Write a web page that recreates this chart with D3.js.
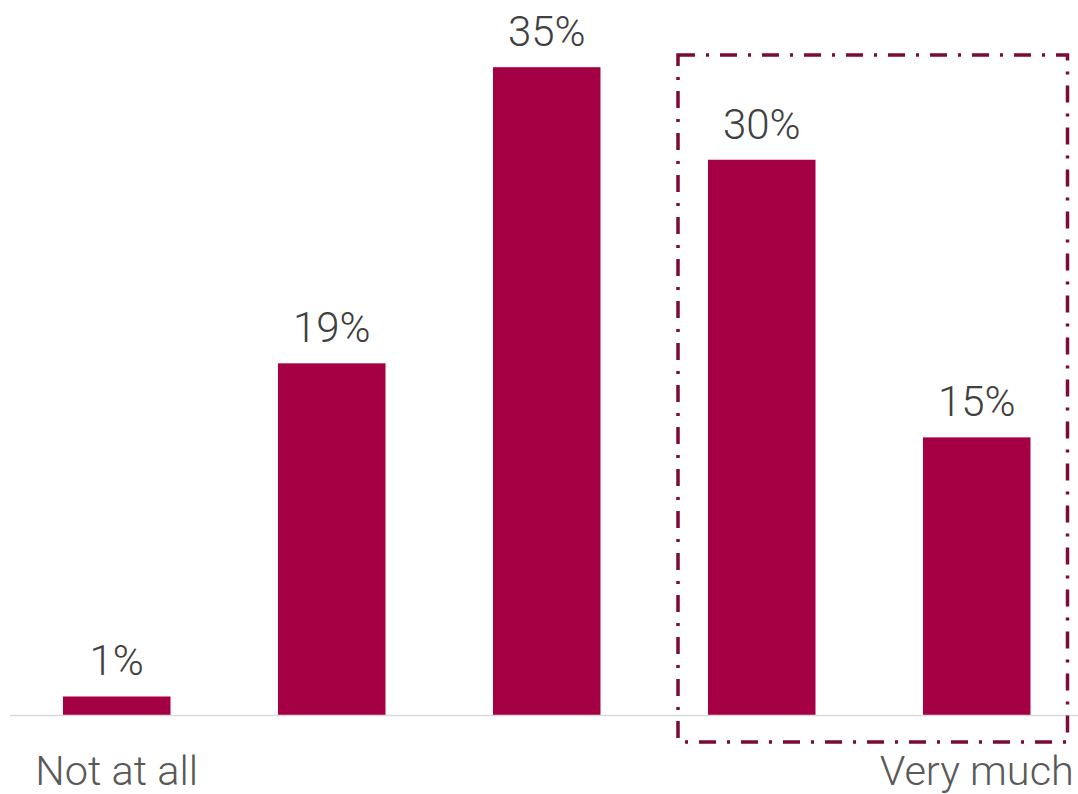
<!DOCTYPE html>
<html>
<head>
<meta charset="utf-8">
<script src="https://cdn.jsdelivr.net/npm/d3@7"></script>
<style>
  html, body { margin: 0; padding: 0; background: #fff; }
  svg { display: block; }
</style>
</head>
<body>
<svg id="chart" width="1078" height="794"></svg>
<script>
// Survey response scale, 1 (Not at all) to 5 (Very much)
const categories = [1, 2, 3, 4, 5];
const tickLabels = ["Not at all", "", "", "", "Very much"];
const shares = [1, 19, 35, 30, 15];        // percent of respondents
const highlighted = [4, 5];                 // categories framed by the dashed box

const W = 1078, H = 794;
const baseY = 715;
const svg = d3.select("#chart");

const x = d3.scaleBand()
  .domain(categories)
  .range([9.25, 1084.25])
  .paddingInner(0.5)
  .paddingOuter(0.25);

const y = d3.scaleLinear()
  .domain([0, 35])
  .range([baseY, 67.2]);

const barColor = "#a50044";
const font = "Roboto, 'Helvetica Neue', Arial, sans-serif";

// bars
svg.append("g").selectAll("rect")
  .data(categories)
  .join("rect")
  .attr("x", d => x(d))
  .attr("width", x.bandwidth())
  .attr("y", (d, i) => y(shares[i]))
  .attr("height", (d, i) => y(0) - y(shares[i]))
  .attr("fill", barColor);

// value labels
svg.append("g").selectAll("text")
  .data(categories)
  .join("text")
  .attr("x", d => x(d) + x.bandwidth() / 2)
  .attr("y", (d, i) => y(shares[i]) - 21)
  .attr("text-anchor", "middle")
  .attr("font-family", font)
  .attr("font-weight", 300)
  .attr("font-size", 42)
  .attr("fill", "#404040")
  .text((d, i) => shares[i] + "%");

// category axis: baseline plus end labels
const axis = d3.axisBottom(x)
  .tickSize(0)
  .tickPadding(0)
  .tickFormat((d, i) => tickLabels[i]);

const gAxis = svg.append("g")
  .attr("transform", `translate(0,${baseY})`)
  .call(axis);
gAxis.select(".domain").remove();
gAxis.selectAll("text")
  .attr("dy", null)
  .attr("y", 70)
  .attr("font-family", font)
  .attr("font-weight", 300)
  .attr("font-size", 41.5)
  .attr("fill", "#595959");

gAxis.append("line")
  .attr("x1", 10)
  .attr("x2", W)
  .attr("y1", 0.5)
  .attr("y2", 0.5)
  .attr("stroke", "#d9d9d9")
  .attr("stroke-width", 1.5);

// dash-dot frame around the top responses
const first = highlighted[0], last = highlighted[highlighted.length - 1];
const boxLeft = x(first) - 30;
const boxRight = x(last) + x.bandwidth() + 37;
svg.append("rect")
  .attr("x", boxLeft)
  .attr("y", 55)
  .attr("width", boxRight - boxLeft)
  .attr("height", 742 - 55)
  .attr("fill", "none")
  .attr("stroke", "#7a0a38")
  .attr("stroke-width", 3.5)
  .attr("stroke-dasharray", "17,11,3,11");
</script>
</body>
</html>
